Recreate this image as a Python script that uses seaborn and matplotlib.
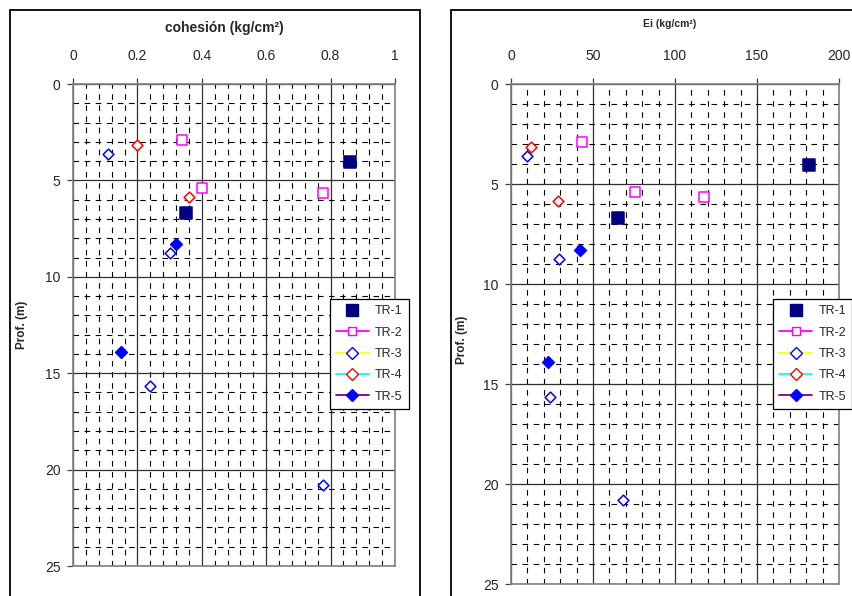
import numpy as np
import pandas as pd
import seaborn as sns
import matplotlib
matplotlib.use("Agg")
from matplotlib import pyplot as plt
from matplotlib.lines import Line2D
from matplotlib.patches import Rectangle
from matplotlib.ticker import MultipleLocator, FormatStrFormatter

# profundidades (m) de cada sondeo
prof_tr1 = [4.05, 6.68]
prof_tr2 = [2.9, 5.4, 5.67]
prof_tr3 = [3.62, 8.75, 15.67, 20.8]
prof_tr4 = [3.15, 5.87]
prof_tr5 = [8.3, 13.92]

# cohesion (kg/cm2)
coh_tr1 = [0.86, 0.35]
coh_tr2 = [0.34, 0.40, 0.775]
coh_tr3 = [0.11, 0.30, 0.24, 0.775]
coh_tr4 = [0.20, 0.36]
coh_tr5 = [0.32, 0.15]

# Ei (kg/cm2)
ei_tr1 = [182, 65]
ei_tr2 = [43.5, 75.5, 117.5]
ei_tr3 = [9.5, 29.5, 24, 68]
ei_tr4 = [12, 28.5]
ei_tr5 = [42, 22.5]

series = ["TR-1", "TR-2", "TR-3", "TR-4", "TR-5"]

sns.set_style("white")
plt.rcParams["font.family"] = ["Liberation Sans", "DejaVu Sans"]

# estilo de cada serie: marcador, relleno, borde, linea (leyenda), tamano
estilos = {
    "TR-1": dict(marker="s", fill="#000080", edge="#000080", line=None, s=80),
    "TR-2": dict(marker="s", fill="white", edge="#FF00FF", line="#FF00FF", s=55),
    "TR-3": dict(marker="D", fill="white", edge="#0000FF", line="#FFFF00", s=30),
    "TR-4": dict(marker="D", fill="white", edge="#FF0000", line="#00FFFF", s=30),
    "TR-5": dict(marker="D", fill="#0000FF", edge="#0000FF", line="#800080", s=36),
}

prof = [prof_tr1, prof_tr2, prof_tr3, prof_tr4, prof_tr5]
coh = [coh_tr1, coh_tr2, coh_tr3, coh_tr4, coh_tr5]
ei = [ei_tr1, ei_tr2, ei_tr3, ei_tr4, ei_tr5]

df = pd.concat(
    [pd.DataFrame({"serie": s, "prof": p, "coh": c, "ei": e})
     for s, p, c, e in zip(series, prof, coh, ei)],
    ignore_index=True,
)

fig = plt.figure(figsize=(8.52, 5.96), dpi=100)
W, H = 852, 596

def ax_rect(x0, x1, y0, y1):
    return [x0 / W, 1 - y1 / H, (x1 - x0) / W, (y1 - y0) / H]

ax1 = fig.add_axes(ax_rect(73, 395, 84, 566))
ax2 = fig.add_axes(ax_rect(511, 839, 84, 584))

# marcos exteriores
fig.patches.append(Rectangle((10 / W, -0.1), 410 / W, 1.1 - 10 / H, transform=fig.transFigure,
                             fill=False, edgecolor="black", linewidth=1.3))
fig.patches.append(Rectangle((451 / W, -0.1), 0.6, 1.1 - 10 / H, transform=fig.transFigure,
                             fill=False, edgecolor="black", linewidth=1.3))


def formato(ax, xmax, xmajor, xminor):
    ax.set_xlim(0, xmax)
    ax.set_ylim(25, 0)
    ax.xaxis.set_major_locator(MultipleLocator(xmajor))
    ax.xaxis.set_minor_locator(MultipleLocator(xminor))
    ax.xaxis.set_major_formatter(FormatStrFormatter("%g"))
    ax.yaxis.set_major_locator(MultipleLocator(5))
    ax.yaxis.set_minor_locator(MultipleLocator(1))
    ax.xaxis.tick_top()
    ax.tick_params(which="major", direction="out", length=4, width=0.9, color="#404040",
                   labelsize=10, top=True, left=True, bottom=False, right=False)
    ax.tick_params(axis="x", which="major", pad=11)
    ax.tick_params(axis="y", which="major", pad=5)
    ax.tick_params(which="minor", length=0)
    ax.grid(which="major", color="#303030", linewidth=0.9, linestyle="-")
    ax.grid(which="minor", color="black", linewidth=0.8, linestyle=(0, (5, 5)))
    ax.set_axisbelow(True)
    for sp in ax.spines.values():
        sp.set_color("#808080")
        sp.set_linewidth(1.2)
    ax.set_xlabel("")
    ax.set_ylabel("")


for ax, col in [(ax1, "coh"), (ax2, "ei")]:
    for s in series:
        st = estilos[s]
        sub = df[df["serie"] == s]
        sns.scatterplot(data=sub, x=col, y="prof", ax=ax, marker=st["marker"],
                        color=st["fill"], edgecolor=st["edge"], linewidth=1.1,
                        s=st["s"], legend=False, zorder=5, clip_on=False)

formato(ax1, 1, 0.2, 0.04)
formato(ax2, 200, 50, 10)

handles = []
for s in series:
    st = estilos[s]
    handles.append(Line2D([], [], color=st["line"] if st["line"] else "none",
                          linewidth=1.3, marker=st["marker"],
                          markerfacecolor=st["fill"], markeredgecolor=st["edge"],
                          markersize=9 if s == "TR-1" else 6, label=s))

for ax, anchor in [(ax1, (1.043, 0.554)), (ax2, (1.04, 0.57))]:
    leg = ax.legend(handles=handles, loc="upper right", bbox_to_anchor=anchor,
                    borderaxespad=0, fontsize=9, frameon=True, fancybox=False,
                    edgecolor="black", framealpha=1, handlelength=2.6,
                    labelspacing=0.75, handletextpad=0.5, borderpad=0.5)
    leg.get_frame().set_linewidth(0.9)
    leg.set_zorder(10)

fig.text(224 / W, 1 - 28 / H, "cohesión (kg/cm\u00b2)", ha="center", va="center",
         fontsize=10, fontweight="bold")
fig.text(670 / W, 1 - 24 / H, "Ei (kg/cm\u00b2)", ha="center", va="center",
         fontsize=7.5, fontweight="bold")
fig.text(22 / W, 1 - 325 / H, "Prof. (m)", ha="center", va="center", rotation=90,
         fontsize=8.5, fontweight="bold")
fig.text(462 / W, 1 - 340 / H, "Prof. (m)", ha="center", va="center", rotation=90,
         fontsize=8.5, fontweight="bold")

fig.savefig("out.png", dpi=100)
